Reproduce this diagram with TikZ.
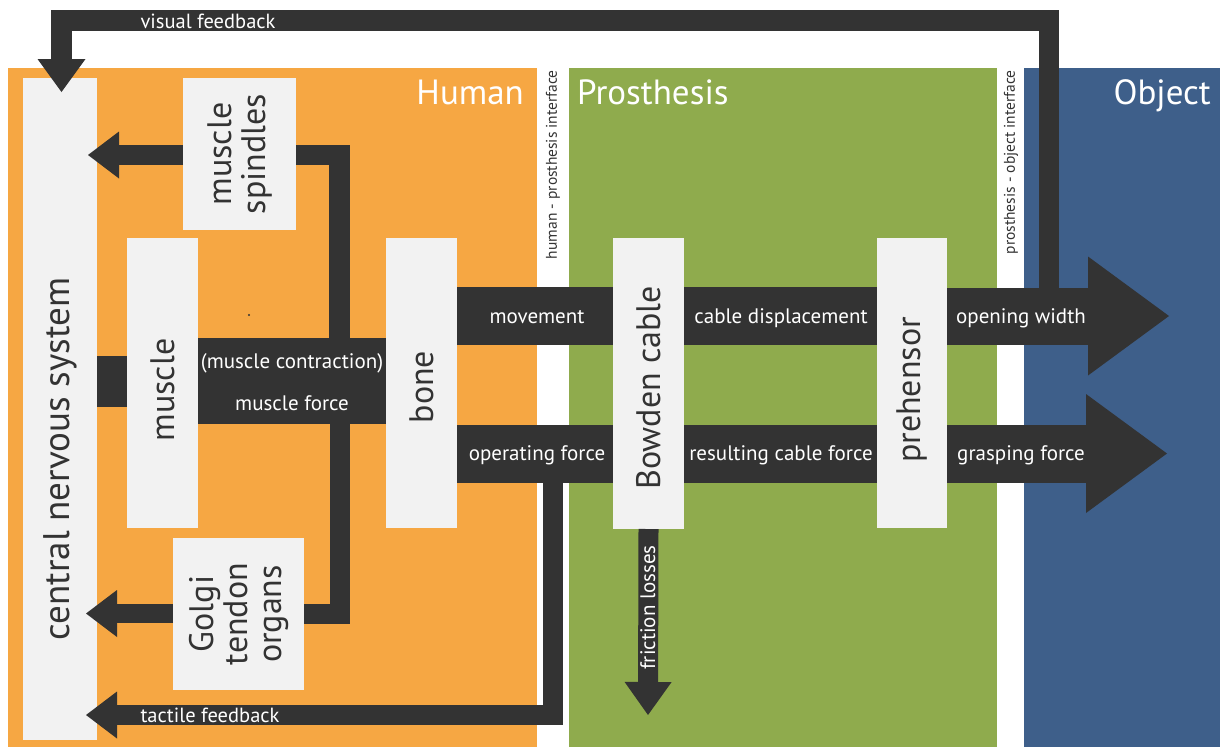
\documentclass[tikz,border=0pt]{standalone}
\usepackage{fontspec}
\setmainfont{PT Sans}
\usetikzlibrary{arrows.meta,calc}
\definecolor{orangeP}{RGB}{246,167,67}
\definecolor{greenP}{RGB}{143,171,77}
\definecolor{blueP}{RGB}{62,95,138}
\definecolor{darkB}{RGB}{51,51,51}
\definecolor{lightB}{RGB}{242,242,242}
\newcommand\fsz[1]{\fontsize{#1}{#1}\selectfont}
\begin{document}
\begin{tikzpicture}[x=1pt,y=-1pt,
  pan/.style={inner sep=0pt,outer sep=0pt,anchor=north west},
  box/.style={pan,fill=lightB},
  bar/.style={draw=darkB,line cap=butt},
  lbl/.style={text=white,font=\fsz{21},anchor=base,inner sep=0pt},
  big/.style={text=darkB,rotate=90,font=\fsz{34},align=center,inner sep=0pt},
  hdr/.style={text=white,font=\fsz{35},inner sep=0pt},
  ift/.style={text=darkB,rotate=90,font=\fsz{15.5},anchor=east,inner sep=0pt},
  fb/.style={text=white,font=\fsz{20.5},inner sep=0pt},
  tipS/.style={-{Triangle[width=47pt,length=31pt,line width=0pt]}},
  tipB/.style={-{Triangle[width=119pt,length=81pt,line width=0pt]}}]
\useasboundingbox (0,0) rectangle (1220,747);
\fill[white] (0,0) rectangle (1220,747);
% panels
\node[pan,fill=orangeP,minimum width=529pt,minimum height=679pt] (human) at (8,68) {};
\node[pan,fill=greenP,minimum width=428pt,minimum height=679pt] (prosth) at (569,68) {};
\node[pan,fill=blueP,minimum width=196pt,minimum height=679pt] (object) at (1024,68) {};
\node[hdr,anchor=base east] (hHuman) at (524,104) {Human};
\node[hdr,anchor=base west] (hProst) at (577,104) {Prosthesis};
\node[hdr,anchor=base east] (hObj) at (1211,104) {Object};
\node[ift] (ifHP) at (553,70) {human - prosthesis interface};
\node[ift] (ifPO) at (1011,70) {prosthesis - object interface};
% boxes
\node[box,minimum width=74pt,minimum height=662pt] (cns) at (23,78) {};
\node[box,minimum width=113pt,minimum height=152pt] (spindles) at (183,78) {};
\node[box,minimum width=71pt,minimum height=290pt] (muscle) at (127,238) {};
\node[box,minimum width=71pt,minimum height=290pt] (bone) at (386,238) {};
\node[box,minimum width=131pt,minimum height=152pt] (golgi) at (173,538) {};
\node[box,minimum width=71pt,minimum height=291pt] (bowden) at (613,238) {};
\node[box,minimum width=70pt,minimum height=290pt] (prehensor) at (877,238) {};
\node[big,font=\fsz{37}] (tCns) at (cns.center |- 0,459) {central nervous system};
\node[big] (tSp) at (spindles.center) {muscle\\spindles};
\node[big] (tMu) at (muscle.center |- 0,390) {muscle};
\node[big] (tBo) at (bone.center |- 0,387) {bone};
\node[big] (tGo) at (golgi.center) {Golgi\\tendon\\organs};
\node[big] (tBw) at (bowden.center |- 0,388) {Bowden cable};
\node[big] (tPr) at (prehensor.center |- 0,390) {prehensor};
% coordinates
\coordinate (jA) at (339.5,381);
\coordinate (vfStart) at (1049,316);
\coordinate (tfStart) at (553,453.5);
\coordinate (owTip) at (1169,316);
\coordinate (gfTip) at (1167,453.5);
\coordinate (flTip) at (648,715);
% feedback loops
\draw[bar,line width=20.5pt,line join=miter,-{Triangle[width=48pt,length=33pt,line width=0pt]},shorten >=-14pt]
  (vfStart) -- (vfStart |- 0,20.5) -- (61.5,20.5) -- (cns.north -| 61.5,0);
\node[fb,anchor=base] (tVf) at (208,28) {visual feedback};
\draw[bar,line width=20pt,line join=miter,tipS,shorten >=-11pt]
  (tfStart) -- (tfStart |- 0,715) -- (cns.east |- 0,715);
\node[fb,anchor=base] (tTf) at (210,722) {tactile feedback};
% human internals
\draw[bar,line width=51pt] (cns.east |- 0,381.5) -- (muscle.west |- 0,381.5);
\draw[bar,line width=86pt] (muscle.east |- 0,381) -- (bone.west |- 0,381);
\draw[bar,line width=20.5pt,line join=miter] (jA) -- (jA |- 0,155) -- (spindles.east |- 0,155);
\draw[bar,line width=20pt,line join=miter] (jA) -- (jA |- 0,613.5) -- (golgi.east |- 0,613.5);
\draw[bar,line width=20pt,tipS,shorten >=-9pt] (spindles.west |- 0,155) -- (cns.east |- 0,155);
\draw[bar,line width=19pt,tipS,shorten >=-11pt] (golgi.west |- 0,613.5) -- (cns.east |- 0,613.5);
\node[lbl] at (292,368) {(muscle contraction)};
\node[lbl] at (292,410) {muscle force};
\fill[darkB] (249,315) circle (1.1);
% forward paths
\draw[bar,line width=58pt] (bone.east |- 0,316) -- (bowden.west |- 0,316);
\draw[bar,line width=58pt] (bowden.east |- 0,316) -- (prehensor.west |- 0,316);
\draw[bar,line width=57pt,tipB] (prehensor.east |- 0,316) -- (owTip);
\draw[bar,line width=58pt] (bone.east |- 0,453.5) -- (bowden.west |- 0,453.5);
\draw[bar,line width=58pt] (bowden.east |- 0,453.5) -- (prehensor.west |- 0,453.5);
\draw[bar,line width=58pt,tipB] (prehensor.east |- 0,453.5) -- (gfTip);
\draw[bar,line width=20pt,-{Triangle[width=47pt,length=33pt,line width=0pt]}] (bowden.south) -- (flTip);
\node[lbl] at (537,323) {movement};
\node[lbl] at (781,323) {cable displacement};
\node[lbl] at (1021,323) {opening width};
\node[lbl] at (537,460) {operating force};
\node[lbl] at (781,460) {resulting cable force};
\node[lbl] at (1021,460) {grasping force};
\node[fb,font=\fsz{21},rotate=90,anchor=base west] (tFl) at (655,670) {friction losses};
\end{tikzpicture}
\end{document}
